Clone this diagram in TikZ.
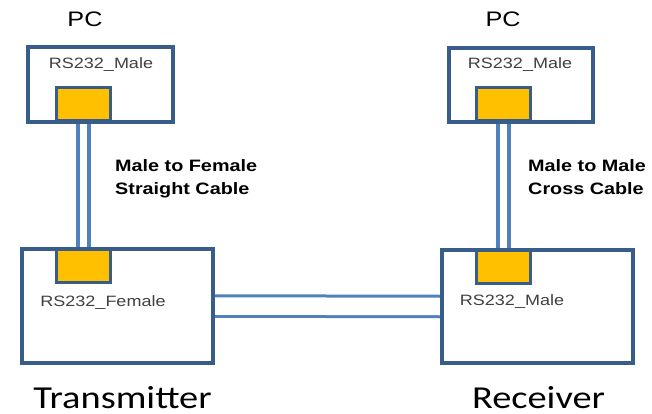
\documentclass[tikz,border=0pt]{standalone}
\usepackage{fontspec}
\setmainfont{Liberation Sans}[FakeStretch=1.2]
\newfontfamily\calibfont{Carlito}[FakeStretch=1.2]
\usetikzlibrary{backgrounds}
\definecolor{boxblue}{RGB}{56,93,138}
\definecolor{cableblue}{RGB}{79,129,189}
\definecolor{plugyellow}{RGB}{255,192,0}
\definecolor{taggray}{RGB}{64,64,64}

\begin{document}
\begin{tikzpicture}[x=1pt, y=-1pt,
	% Define the styles for the boxes, plugs, cables and texts
	unit/.style={draw=boxblue, line width=3.5pt, fill=white, inner sep=0pt},
	plug/.style={draw=boxblue, line width=3pt, fill=plugyellow, inner sep=0pt, minimum width=54pt, minimum height=33pt},
	vcable/.style={draw=cableblue, line width=4pt, double=white, double distance=7pt},
	hcable/.style={draw=cableblue, line width=3pt, double=white, double distance=17.5pt},
	tag/.style={anchor=base, text=taggray, inner sep=0pt, font=\fontsize{15}{18}\selectfont},
	title/.style={anchor=base, inner sep=0pt, font=\fontsize{21}{25}\selectfont},
	caption/.style={anchor=base, inner sep=0pt, font=\calibfont\fontsize{32}{38}\selectfont},
	note/.style={anchor=base west, align=left, inner sep=0pt, font=\bfseries\fontsize{16.5}{23}\selectfont}
	]
	\useasboundingbox (0,0) rectangle (652,414);
	
	% --- BOXES ---
	% Format: \node (internal_name) at (x,y) [unit, size] {};
	
	\node (pcA) at (100.5, 84.5) [unit, minimum width=145pt, minimum height=75pt] {};
	\node (pcB) at (521, 85) [unit, minimum width=144pt, minimum height=74pt] {};
	\node (tx) at (117.5, 306) [unit, minimum width=191pt, minimum height=114pt] {};
	\node (rx) at (537.5, 306.5) [unit, minimum width=191pt, minimum height=113pt] {};
	
	% --- PLUGS ---
	
	\node (plugPcA) at (83, 104.5) [plug] {};
	\node (plugPcB) at (503.5, 104.5) [plug] {};
	\node (plugTx) at (83, 265.5) [plug] {};
	\node (plugRx) at (503.5, 266.5) [plug] {};
	
	% --- TEXTS ---
	
	\node (pcAName) at (85, 27) [title] {PC};
	\node (pcBName) at (503, 27) [title] {PC};
	\node (pcATag) at (101, 69) [tag] {RS232\_Male};
	\node (pcBTag) at (520, 69) [tag] {RS232\_Male};
	\node (txTag) at (103, 306) [tag] {RS232\_Female};
	\node (rxTag) at (512, 305) [tag] {RS232\_Male};
	\node (txName) at (122.5, 408) [caption] {Transmitter};
	\node (rxName) at (538.5, 408) [caption] {Receiver};
	\node (cableA) at (115, 194) [note] {Male to Female\\Straight Cable};
	\node (cableB) at (528, 194) [note] {Male to Male\\Cross Cable};
	
	% --- CABLES ---
	% The boxes are drawn over the ends of the cables.
	
	\begin{scope}[on background layer]
	\draw[vcable] (plugPcA.south) -- (plugTx.north);
	\draw[vcable] (plugPcB.south) -- (plugRx.north);
	\draw[hcable] (tx.east) -- (rx.west);
	\end{scope}
	
\end{tikzpicture}
\end{document}
